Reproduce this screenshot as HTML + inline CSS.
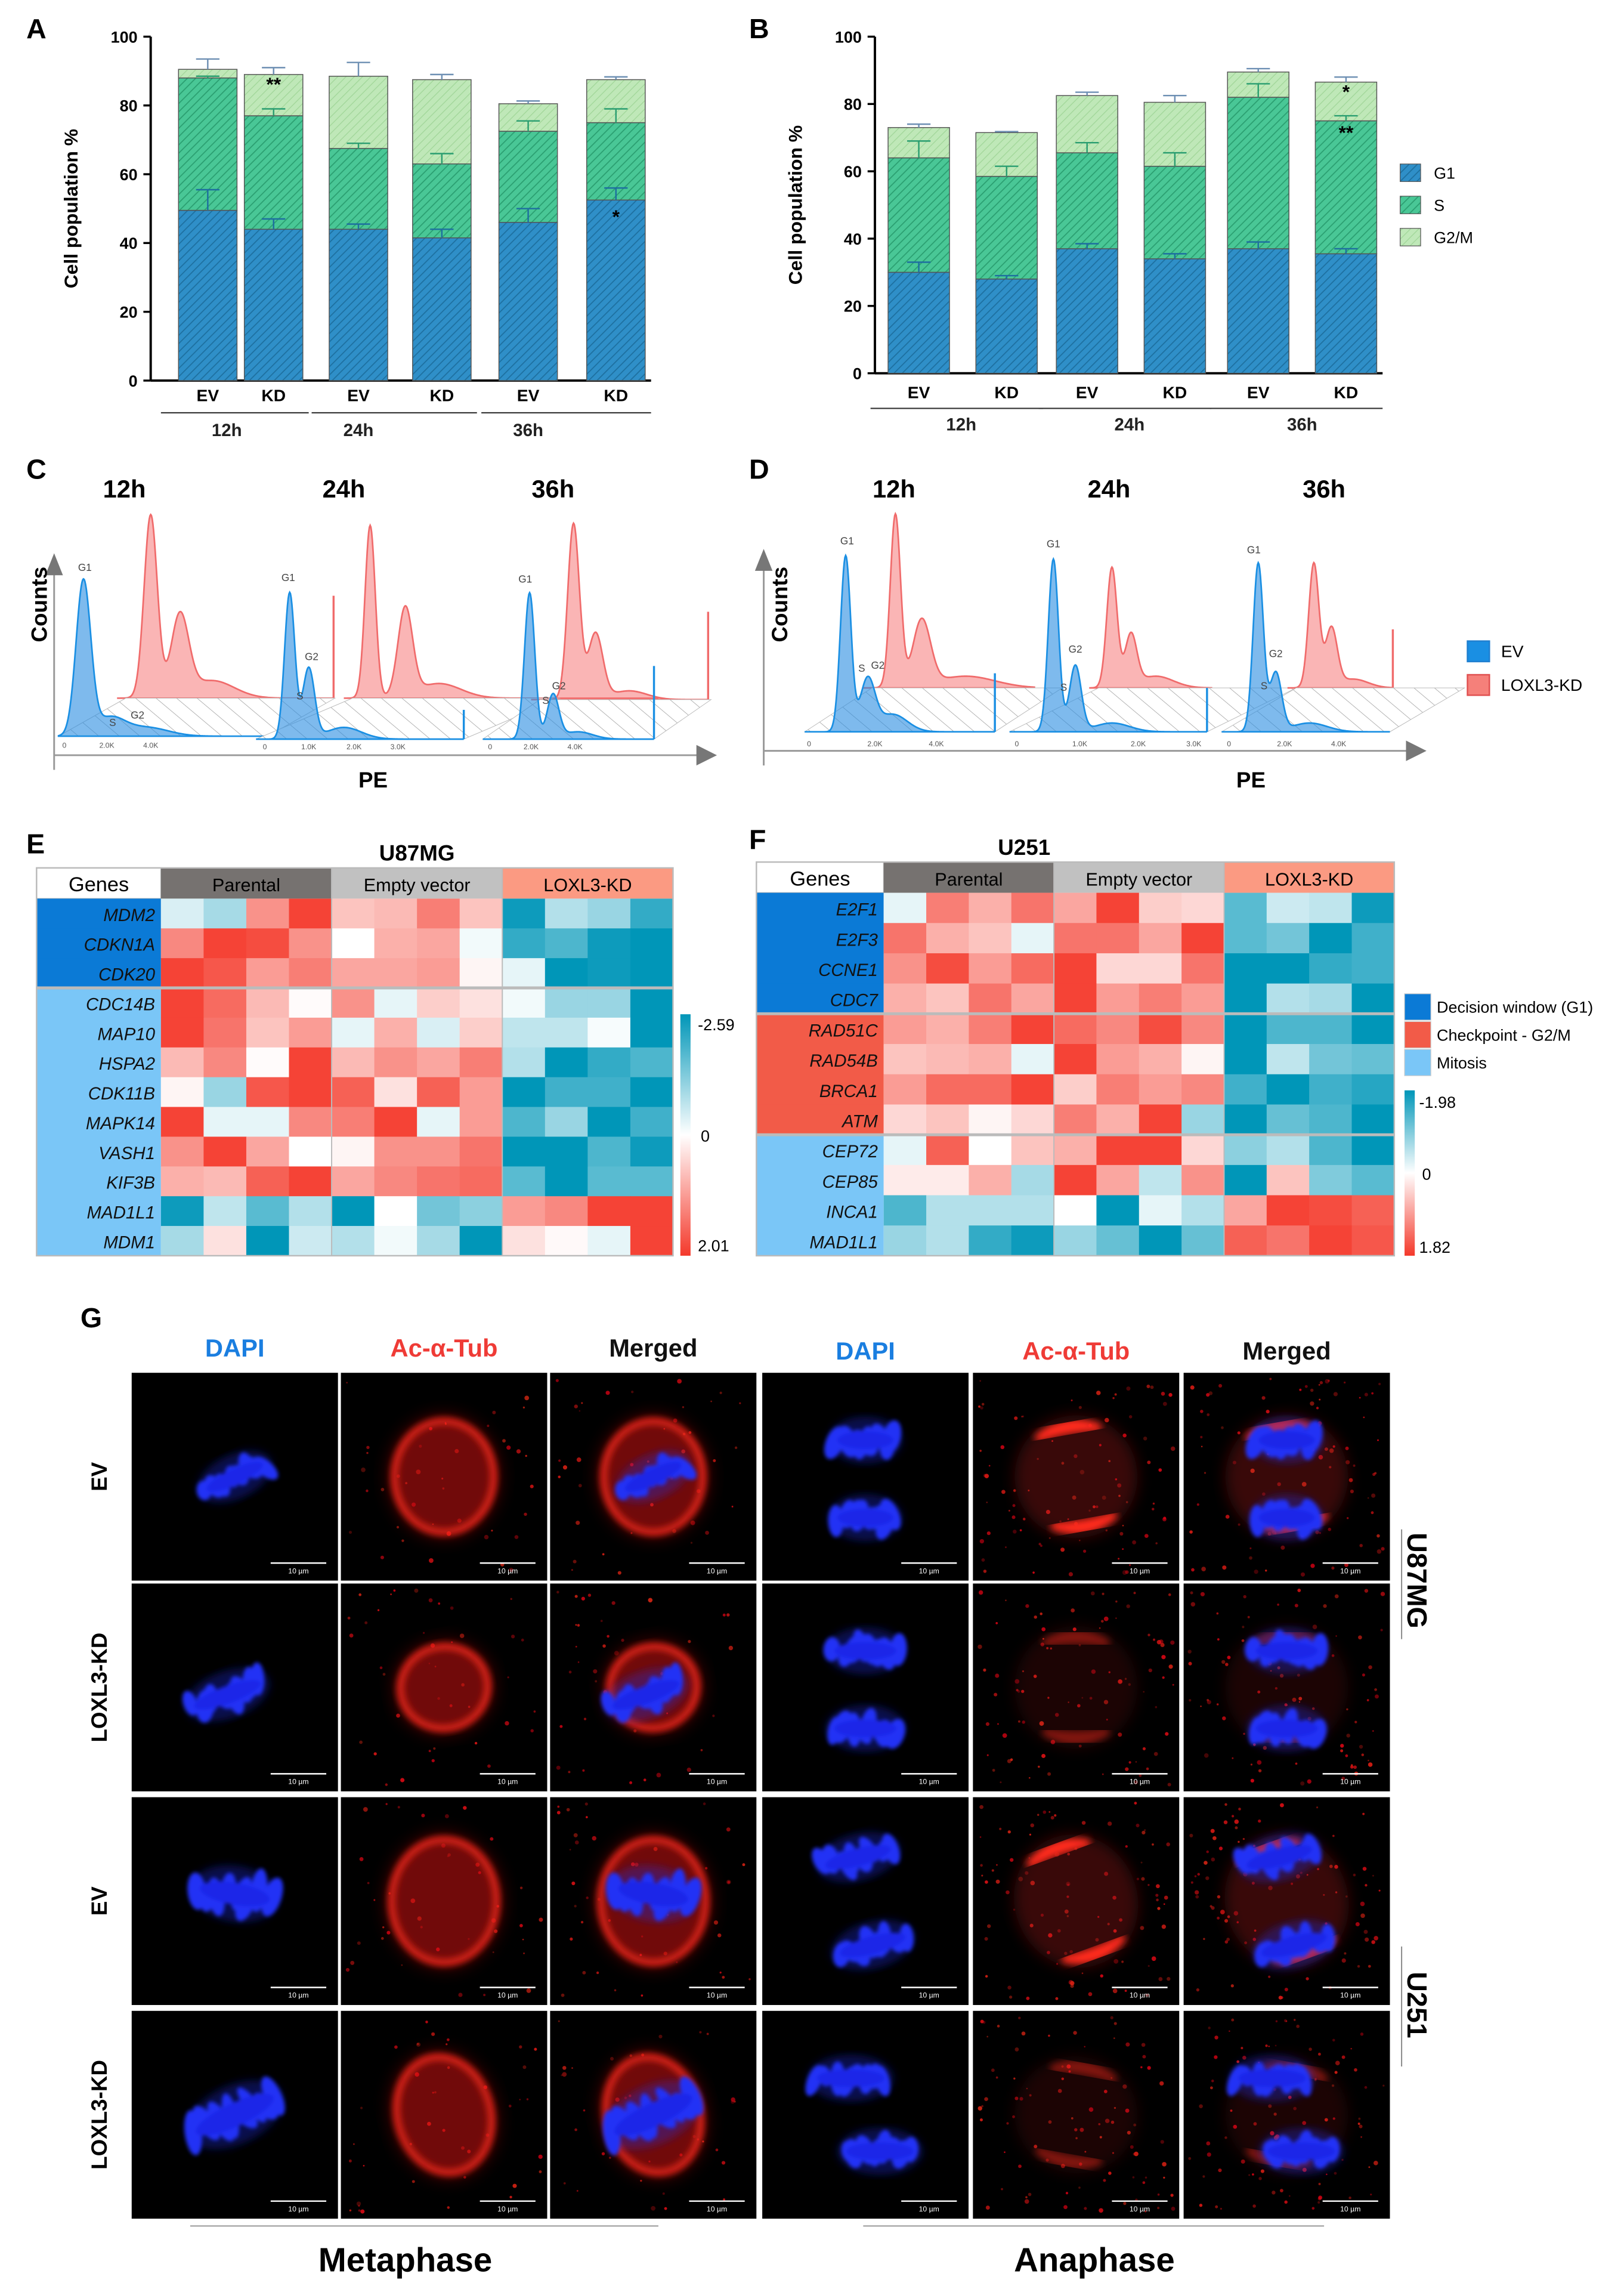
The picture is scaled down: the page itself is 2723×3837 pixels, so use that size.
<!DOCTYPE html>
<html><head><meta charset="utf-8"><style>
html,body{margin:0;padding:0;background:#fff}
svg{display:block}
text{font-family:"Liberation Sans",Arial,sans-serif}
</style></head><body>
<svg id="fig" xmlns="http://www.w3.org/2000/svg" width="2723" height="3837" viewBox="0 0 1110 1564">
<defs>
<pattern id="hG1" patternUnits="userSpaceOnUse" width="4" height="4" patternTransform="rotate(45)"><rect width="4" height="4" fill="#2f8fc8"/><line x1="0" y1="0" x2="0" y2="4" stroke="#1d6f9f" stroke-width="1.4"/></pattern>
<pattern id="hS" patternUnits="userSpaceOnUse" width="4" height="4" patternTransform="rotate(45)"><rect width="4" height="4" fill="#49c796"/><line x1="0" y1="0" x2="0" y2="4" stroke="#2a9e70" stroke-width="1.4"/></pattern>
<pattern id="hG2" patternUnits="userSpaceOnUse" width="4" height="4" patternTransform="rotate(45)"><rect width="4" height="4" fill="#bfe8b8"/><line x1="0" y1="0" x2="0" y2="4" stroke="#9fd597" stroke-width="1"/></pattern>
<pattern id="floor" patternUnits="userSpaceOnUse" width="9" height="9" patternTransform="rotate(-50)"><rect width="9" height="9" fill="#fff"/><line x1="0" y1="0" x2="0" y2="9" stroke="#9a9a9a" stroke-width="0.6"/></pattern>
<filter id="blur2"><feGaussianBlur stdDeviation="2.5"/></filter>
<filter id="blur1"><feGaussianBlur stdDeviation="1.3"/></filter>
<filter id="blur4"><feGaussianBlur stdDeviation="5"/></filter>
</defs>
<g id="root"></g>
</svg>
<script>
// ---------- Panel A / B data ----------
var barCats = ['EV','KD','EV','KD','EV','KD'];
var groupLabels = ['12h','24h','36h'];
var aG1 = [49.5,44,44,41.5,46,52.5];
var aS  = [38.5,33,23.5,21.5,26.5,22.5];
var aG2 = [2.5,12,21,24.5,8,12.5];
var aErrG1 = [6,3,1.5,2.5,4,3.5];
var aErrS  = [0.5,2,1.5,3,3,4];
var aErrT  = [3,2,4,1.5,0.8,0.8];
var bG1 = [30,28,37,34,37,35.5];
var bS  = [34,30.5,28.5,27.5,45,39.5];
var bG2 = [9,13,17,19,7.5,11.5];
var bErrG1 = [3,1,1.5,1.5,2,1.5];
var bErrS  = [5,3,3,4,4,1.5];
var bErrT  = [1,0.3,1,2,1,1.5];
var yTicks = [0,20,40,60,80,100];
// ---------- Heatmap data ----------
var eGenes = ['MDM2','CDKN1A','CDK20','CDC14B','MAP10','HSPA2','CDK11B','MAPK14','VASH1','KIF3B','MAD1L1','MDM1'];
var eVals = [
[-0.15,-0.35,0.55,0.95,0.3,0.35,0.65,0.3,-0.95,-0.3,-0.4,-0.8],
[0.6,0.95,0.9,0.55,0,0.4,0.45,-0.05,-0.8,-0.7,-0.95,-1],
[0.95,0.85,0.5,0.65,0.45,0.45,0.5,0.05,-0.1,-1,-0.95,-1],
[0.95,0.75,0.35,0.02,0.55,-0.1,0.25,0.15,-0.05,-0.4,-0.4,-1],
[0.95,0.7,0.3,0.5,-0.1,0.4,-0.15,0.25,-0.25,-0.25,-0.03,-1],
[0.35,0.6,0.02,0.95,0.35,0.55,0.45,0.65,-0.3,-1,-0.8,-0.7],
[0.05,-0.4,0.85,0.95,0.8,0.15,0.8,0.5,-1,-0.75,-0.75,-1],
[0.95,-0.1,-0.1,0.6,0.65,0.95,-0.1,0.5,-0.7,-0.4,-1,-0.75],
[0.55,0.95,0.45,0,0.05,0.55,0.55,0.7,-1,-1,-0.7,-0.95],
[0.4,0.35,0.8,0.95,0.45,0.6,0.7,0.75,-0.65,-1,-0.65,-0.65],
[-0.95,-0.25,-0.65,-0.3,-1,0,-0.55,-0.45,0.5,0.6,0.95,0.95],
[-0.35,0.15,-1,-0.2,-0.3,-0.05,-0.35,-1,0.15,0.03,-0.1,0.95]];
var eGroups = [0,0,0,2,2,2,2,2,2,2,2,2];
var fGenes = ['E2F1','E2F3','CCNE1','CDC7','RAD51C','RAD54B','BRCA1','ATM','CEP72','CEP85','INCA1','MAD1L1'];
var fVals = [
[-0.1,0.65,0.4,0.7,0.45,0.95,0.25,0.2,-0.65,-0.2,-0.25,-0.95],
[0.7,0.4,0.3,-0.1,0.7,0.7,0.45,0.95,-0.65,-0.55,-1,-0.75],
[0.55,0.9,0.5,0.75,0.95,0.2,0.2,0.7,-1,-1,-0.8,-0.75],
[0.4,0.3,0.7,0.45,0.95,0.5,0.65,0.5,-1,-0.3,-0.35,-1],
[0.5,0.4,0.65,0.95,0.75,0.6,0.9,0.6,-1,-0.7,-0.7,-1],
[0.3,0.35,0.4,-0.1,0.95,0.5,0.4,0.05,-1,-0.25,-0.55,-0.6],
[0.5,0.75,0.75,0.95,0.25,0.65,0.5,0.6,-0.75,-1,-0.75,-0.85],
[0.2,0.3,0.05,0.2,0.65,0.4,0.95,-0.4,-1,-0.6,-0.7,-1],
[-0.1,0.8,0,0.3,0.4,0.95,0.95,0.2,-0.45,-0.3,-0.7,-1],
[0.1,0.1,0.4,-0.35,0.95,0.45,-0.25,0.55,-1,0.3,-0.5,-0.65],
[-0.7,-0.3,-0.3,-0.3,0,-1,-0.1,-0.3,0.45,0.95,0.9,0.8],
[-0.4,-0.3,-0.8,-0.95,-0.4,-0.6,-1,-0.6,0.8,0.7,0.95,0.85]];
var fGroups = [0,0,0,0,1,1,1,1,2,2,2,2];
// ---------- Flow histogram peaks [x, height, width] ----------
var cBlue12 = [[57,105,5],[75,12,10],[100,6,15]];
var cRed12  = [[103,125,4.5],[123,55,6],[145,12,15]];
var cBlue24 = [[198,100,3.5],[211,48,4],[235,8,12]];
var cRed24  = [[253,118,3.5],[277,60,5],[300,10,15]];
var cBlue36 = [[362,100,3.5],[378,30,4],[395,5,10]];
var cRed36  = [[392,120,4],[407,45,5],[430,6,12]];
var dBlue12 = [[578,120,3.5],[593,35,5],[610,12,10]];
var dRed12  = [[612,118,3.5],[630,45,6],[660,8,20]];
var dBlue24 = [[720,118,3.5],[735,45,4],[760,6,12]];
var dRed24  = [[760,82,3.5],[773,35,4],[790,8,12]];
var dBlue36 = [[860,115,3.5],[872,40,4],[895,6,12]];
var dRed36  = [[898,85,3.5],[910,40,4],[925,6,10]];

var NS='http://www.w3.org/2000/svg';
var root=document.getElementById('root');
function el(tag,attrs,parent,txt){var e=document.createElementNS(NS,tag);for(var k in attrs)e.setAttribute(k,attrs[k]);if(txt!==undefined)e.textContent=txt;(parent||root).appendChild(e);return e;}
function T(x,y,s,txt,o,parent){o=o||{};var a={x:x,y:y,'font-size':s,fill:o.fill||'#000','text-anchor':o.anchor||'middle'};if(o.bold)a['font-weight']='bold';if(o.italic)a['font-style']='italic';if(o.tr)a.transform=o.tr;if(o.ff)a['font-family']=o.ff;return el('text',a,parent,txt);}

[['A',18,26],['B',512,26],['C',18,327],['D',512,327],['E',18,583],['F',512,580],['G',55,907]].forEach(function(p){
  var t=T(p[1],p[2],19,p[0],{bold:true,anchor:'start'});
  
  
});

function barChart(id,ax,y0,y100,centers,bw,G1,S,G2,eG1,eS,eT,lineY,catY,grpY,grpX){
  var g=el('g',{},root);
  
  
  function Y(v){return y0+(y100-y0)*v/100;}
  el('line',{x1:ax,y1:Y(0),x2:ax,y2:Y(100),stroke:'#000','stroke-width':1.6},g);
  yTicks.forEach(function(v){
    el('line',{x1:ax-5,y1:Y(v),x2:ax,y2:Y(v),stroke:'#000','stroke-width':1.4},g);
    var t=T(ax-9,Y(v)+4,11,String(v),{anchor:'end',bold:true},g);
    
    
  });
  var yt=T(0,0,13,'Cell population %',{bold:true,tr:'translate('+(ax-50)+','+((Y(0)+Y(100))/2)+') rotate(-90)'},g);
  
  
  el('line',{x1:ax,y1:Y(0),x2:centers[5]+bw/2+4,y2:Y(0),stroke:'#000','stroke-width':1.6},g);
  centers.forEach(function(cx,i){
    var v1=G1[i],v2=v1+S[i],v3=v2+G2[i];
    var parts=[[0,v1,'url(#hG1)','g1'],[v1,v2,'url(#hS)','s'],[v2,v3,'url(#hG2)','g2m']];
    parts.forEach(function(p){
      var r=el('rect',{x:cx-bw/2,y:Y(p[1]),width:bw,height:Y(p[0])-Y(p[1]),fill:p[2],stroke:'#555','stroke-width':0.6},g);
      
      
    });
    [[v1,eG1[i],'#1d6f9f'],[v2,eS[i],'#2a9e70'],[v3,eT[i],'#6d8fb3']].forEach(function(e){
      el('line',{x1:cx,y1:Y(e[0]),x2:cx,y2:Y(e[0]+e[1]),stroke:e[2],'stroke-width':1},g);
      el('line',{x1:cx-8,y1:Y(e[0]+e[1]),x2:cx+8,y2:Y(e[0]+e[1]),stroke:e[2],'stroke-width':1},g);
    });
    var c=T(cx,catY,11.5,barCats[i],{bold:true},g);
    
    
  });
  for(var k=0;k<3;k++){
    var xa=centers[2*k]-bw/2-12,xb=centers[2*k+1]+bw/2+4;
    el('line',{x1:xa,y1:lineY,x2:xb,y2:lineY,stroke:'#333','stroke-width':0.9},g);
    var gl=T(grpX[k],grpY,12,groupLabels[k],{bold:true,fill:'#222'},g);
    
    
  }
  return {g:g,Y:Y};
}
var A=barChart('a',103,260,25,[142,187,245,302,361,421],40,aG1,aS,aG2,aErrG1,aErrS,aErrT,282,274,298,[155,245,361]);
T(187,62,13,'**',{bold:true},A.g);
T(421,A.Y(aG1[5]-5)+4,13,'*',{bold:true},A.g);
var B=barChart('b',598,255,25,[628,688,743,803,860,920],42,bG1,bS,bG2,bErrG1,bErrS,bErrT,279,272,294,[657,772,890]);
T(920,67,13,'*',{bold:true},B.g);
T(920,95,13,'**',{bold:true},B.g);
[['url(#hG1)','G1',118],['url(#hS)','S',140],['url(#hG2)','G2/M',162]].forEach(function(l){
  var r=el('rect',{x:957,y:l[2]-6,width:14,height:12,fill:l[0],stroke:'#555','stroke-width':0.5});
  
  
  var t=T(980,l[2]+4,11,l[1],{anchor:'start'});
  
  
});

function histPath(peaks,xs,xe,base){
  var d='M'+xs+','+base;
  for(var x=xs;x<=xe;x+=0.5){
    var h=0;peaks.forEach(function(p){var z=(x-p[0])/p[2];h+=p[1]*Math.exp(-z*z/2);});
    d+=' L'+x+','+(base-h).toFixed(2);
  }
  return d+' L'+xe+','+base+' Z';
}
function hist(name,peaks,xs,xe,base,col,fill,spike,g){
  var p=el('path',{d:histPath(peaks,xs,xe,base),fill:fill,stroke:col,'stroke-width':1.1},g);
  
  
  if(spike)el('line',{x1:xe,y1:base,x2:xe,y2:base-spike,stroke:col,'stroke-width':1.4},g);
}
function floor(x1,x2,yb,dx,dy,g){
  el('path',{d:'M'+x1+','+yb+' L'+x2+','+yb+' L'+(x2+dx)+','+(yb+dy)+' L'+(x1+dx)+','+(yb+dy)+' Z',fill:'url(#floor)',stroke:'#bbb','stroke-width':0.4},g);
}
function flowPanel(id,ax,axTop,axY,axRight,titles,titleX,countsX,peX,sets,ticks){
  var g=el('g',{},root);
  
  
  el('line',{x1:ax,y1:axY+10,x2:ax,y2:axTop+12,stroke:'#999','stroke-width':1.2},g);
  el('path',{d:'M'+(ax-6)+','+(axTop+15)+' L'+ax+','+axTop+' L'+(ax+6)+','+(axTop+15)+' Z',fill:'#777'},g);
  el('line',{x1:ax,y1:axY,x2:axRight-12,y2:axY,stroke:'#999','stroke-width':1.2},g);
  el('path',{d:'M'+(axRight-14)+','+(axY-7)+' L'+axRight+','+axY+' L'+(axRight-14)+','+(axY+7)+' Z',fill:'#777'},g);
  var c=T(0,0,15,'Counts',{bold:true,tr:'translate('+countsX+',413) rotate(-90)'},g);
  
  
  var pe=T(peX,538,15,'PE',{bold:true},g);
  
  
  titles.forEach(function(t,i){var tt=T(titleX[i],340,17,t,{bold:true},g);
    
    });
  sets.forEach(function(s){
    hist('red-histogram',s.red,s.rx[0],s.rx[1],s.rb,'#f06b6b','rgba(245,120,120,0.55)',s.rs,g);
    floor(s.bx[0],s.bx[1],s.bb,s.rx[0]-s.bx[0]+6,s.rb-s.bb,g);
    hist('blue-histogram',s.blue,s.bx[0],s.bx[1],s.bb,'#1a8fe3','rgba(40,140,225,0.6)',s.bs,g);
    s.lab.forEach(function(l){T(l[0],l[1],7,l[2],{fill:'#444'},g);});
  });
  ticks.forEach(function(t){T(t[0],t[1],5,t[2],{fill:'#555'},g);});
}
flowPanel('c',37,378,516,490,['12h','24h','36h'],[85,235,378],32,255,[
 {blue:cBlue12,bx:[40,183],bb:503,red:cRed12,rx:[80,228],rb:477,rs:70,bs:0,lab:[[58,390,'G1'],[77,496,'S'],[94,491,'G2']]},
 {blue:cBlue24,bx:[175,317],bb:505,red:cRed24,rx:[235,450],rb:477,rs:0,bs:20,lab:[[197,397,'G1'],[213,451,'G2'],[205,478,'S']]},
 {blue:cBlue36,bx:[330,447],bb:505,red:cRed36,rx:[363,484],rb:478,rs:60,bs:50,lab:[[359,398,'G1'],[382,471,'G2'],[373,481,'S']]}
],[[44,511,'0'],[73,511,'2.0K'],[103,511,'4.0K'],[181,512,'0'],[211,512,'1.0K'],[242,512,'2.0K'],[272,512,'3.0K'],[335,512,'0'],[363,512,'2.0K'],[393,512,'4.0K']]);
flowPanel('d',522,375,513,975,['12h','24h','36h'],[611,758,905],538,855,[
 {blue:dBlue12,bx:[550,680],bb:500,red:dRed12,rx:[590,707],rb:470,rs:0,bs:40,lab:[[579,372,'G1'],[589,459,'S'],[600,457,'G2']]},
 {blue:dBlue24,bx:[690,825],bb:500,red:dRed24,rx:[745,828],rb:470,rs:0,bs:30,lab:[[720,374,'G1'],[735,446,'G2'],[727,472,'S']]},
 {blue:dBlue36,bx:[835,950],bb:500,red:dRed36,rx:[880,952],rb:470,rs:40,bs:0,lab:[[857,378,'G1'],[872,449,'G2'],[864,471,'S']]}
],[[553,510,'0'],[598,510,'2.0K'],[640,510,'4.0K'],[695,510,'0'],[738,510,'1.0K'],[778,510,'2.0K'],[816,510,'3.0K'],[840,510,'0'],[878,510,'2.0K'],[915,510,'4.0K']]);
[['#1a8fe3','#1f7fd0','EV',445],['#f5807a','#e05050','LOXL3-KD',468]].forEach(function(l){
  var r=el('rect',{x:1003,y:l[3]-7,width:15,height:14,fill:l[0],stroke:l[1],'stroke-width':1});
  
  
  var t=T(1026,l[3]+4,11.5,l[2],{anchor:'start'});
  
  
});

function hmColor(v){
  var r,g,b;
  if(v>=0){r=255+(244-255)*v;g=255+(57-255)*v;b=255+(43-255)*v;}
  else{var t=-v;r=255+(0-255)*t;g=255+(150-255)*t;b=255+(184-255)*t;}
  return 'rgb('+Math.round(r)+','+Math.round(g)+','+Math.round(b)+')';
}
var grpColors=['#0b7ad6','#f25b48','#7ac6f7'];
function heatmap(id,title,titleX,titleY,x0,gw,x1,hy0,hy1,ry1,genes,vals,groups){
  var g=el('g',{},root);
  
  
  var tt=T(titleX,titleY,15,title,{bold:true},g);
  
  
  var cw=(x1-x0-gw)/12,rh=(ry1-hy1)/12,cx0=x0+gw;
  el('rect',{x:x0,y:hy0,width:gw,height:hy1-hy0,fill:'#fff',stroke:'#bbb','stroke-width':0.8},g);
  T(x0+gw/2,hy1-5,14,'Genes',{},g);
  [['Parental','#767270'],['Empty vector','#c1c1c1'],['LOXL3-KD','#fb9a82']].forEach(function(h,i){
    var r=el('rect',{x:cx0+i*4*cw,y:hy0,width:4*cw,height:hy1-hy0,fill:h[1]},g);
    
    
    T(cx0+i*4*cw+2*cw,hy1-5,12.5,h[0],{},g);
  });
  genes.forEach(function(gn,r){
    var y=hy1+r*rh;
    el('rect',{x:x0,y:y,width:gw,height:rh+0.3,fill:grpColors[groups[r]]},g);
    var lt=T(cx0-4,y+rh*0.75,12,gn,{anchor:'end',italic:true,fill:'#111'},g);
    
    
    vals[r].forEach(function(v,c){
      var cell=el('rect',{x:cx0+c*cw,y:y,width:cw+0.3,height:rh+0.3,fill:hmColor(v)},g);
      
      
    });
    if(r>0&&groups[r]!==groups[r-1])el('line',{x1:x0,y1:y,x2:x1,y2:y,stroke:'#bbb','stroke-width':2},g);
  });
  [4,8].forEach(function(c){el('line',{x1:cx0+c*cw,y1:hy0,x2:cx0+c*cw,y2:ry1,stroke:'#bbb','stroke-width':0.8},g);});
  el('rect',{x:x0,y:hy0,width:x1-x0,height:ry1-hy0,fill:'none',stroke:'#bbb','stroke-width':1},g);
  return g;
}
heatmap('u87mg','U87MG',285,588,25,85,460,593,614,858,eGenes,eVals,eGroups);
heatmap('u251','U251',700,584,517,87,953,589,610,858,fGenes,fVals,fGroups);
var lg=el('linearGradient',{id:'cs',x1:0,y1:0,x2:0,y2:1},document.querySelector('defs'));
el('stop',{offset:'0','stop-color':'#0096b8'},lg);el('stop',{offset:'0.5','stop-color':'#ffffff'},lg);el('stop',{offset:'1','stop-color':'#f4392b'},lg);
var cs1=el('rect',{x:465,y:693,width:7,height:165,fill:'url(#cs)'});


T(477,704,11,'-2.59',{anchor:'start'});T(479,780,11,'0',{anchor:'start'});T(477,855,11,'2.01',{anchor:'start'});
var cs2=el('rect',{x:960,y:745,width:7,height:113,fill:'url(#cs)'});


T(970,757,11,'-1.98',{anchor:'start'});T(972,806,11,'0',{anchor:'start'});T(970,856,11,'1.82',{anchor:'start'});
[['#0b7ad6','Decision window (G1)',688],['#f25b48','Checkpoint - G2/M',707],['#7ac6f7','Mitosis',726]].forEach(function(l){
  var r=el('rect',{x:960,y:l[2]-9,width:18,height:18,fill:l[0],stroke:'#ccc','stroke-width':0.5});
  
  
  var t=T(982,l[2]+4,11,l[1],{anchor:'start'});
  
  
});

// ---------- panel G microscopy ----------
var gCols=[90,233,376,521,665,809], gRows=[938,1082,1228,1374], gW=141, gH=142;
var G=el('g',{},root);


[['DAPI','#1a7ee0'],['Ac-α-Tub','#ef3b36'],['Merged','#111'],['DAPI','#1a7ee0'],['Ac-α-Tub','#ef3b36'],['Merged','#111']].forEach(function(h,i){
  var t=T(gCols[i]+gW/2,i<3?927:929,17,h[0],{bold:true,fill:h[1]},G);
  
  
});
['EV','LOXL3-KD','EV','LOXL3-KD'].forEach(function(l,i){
  var t=T(0,0,15,l,{bold:true,tr:'translate(73,'+(gRows[i]+gH/2)+') rotate(-90)'},G);
  
  
});
var u1=T(0,0,19,'U87MG',{bold:true,tr:'translate(962,1080) rotate(90)'},G);

var u2=T(0,0,19,'U251',{bold:true,tr:'translate(962,1370) rotate(90)'},G);

el('line',{x1:958,y1:1045,x2:958,y2:1120,stroke:'#888','stroke-width':0.8},G);
el('line',{x1:958,y1:1330,x2:958,y2:1412,stroke:'#888','stroke-width':0.8},G);
el('line',{x1:130,y1:1521,x2:450,y2:1521,stroke:'#999','stroke-width':0.8},G);
el('line',{x1:590,y1:1521,x2:905,y2:1521,stroke:'#999','stroke-width':0.8},G);
var mt=T(277,1552,23,'Metaphase',{bold:true},G);
var an=T(748,1552,23,'Anaphase',{bold:true},G);

var seed=7;function rnd(){seed=(seed*16807)%2147483647;return seed/2147483647;}
function chrom(g,cx,cy,w,h,rot){
  var cg=el('g',{transform:'translate('+cx+','+cy+') rotate('+rot+')',filter:'url(#blur1)'},g);
  el('ellipse',{cx:0,cy:0,rx:w/2+6,ry:h/2+4,fill:'rgba(30,40,220,0.35)',filter:'url(#blur2)'},cg);
  for(var i=0;i<8;i++){
    var x=-w/2+i*w/7+(rnd()-0.5)*4, y=(rnd()-0.5)*h*0.35;
    el('ellipse',{cx:x,cy:y,rx:4.5+rnd()*2,ry:h/2*(0.6+rnd()*0.4),fill:'#2030f5',transform:'rotate('+((rnd()-0.5)*50)+' '+x+' '+y+')'},cg);
  }
  el('ellipse',{cx:0,cy:0,rx:w/2,ry:h/4,fill:'#1a25e8'},cg);
}
function speckle(g,x,y,n){for(var i=0;i<n;i++)el('circle',{cx:x+4+rnd()*(gW-8),cy:y+4+rnd()*(gH-8),r:0.5+rnd()*1.1,fill:'rgb(220,'+Math.round(rnd()*40)+',20)',opacity:0.3+rnd()*0.6},g);}
function metaTub(g,cx,cy,rx,ry,rot){
  var sg=el('g',{transform:'translate('+cx+','+cy+') rotate('+rot+')'},g);
  el('ellipse',{cx:0,cy:0,rx:rx+6,ry:ry+6,fill:'rgba(200,20,20,0.25)',filter:'url(#blur4)'},sg);
  el('ellipse',{cx:0,cy:0,rx:rx,ry:ry,fill:'rgba(230,30,30,0.35)',filter:'url(#blur2)'},sg);
  el('ellipse',{cx:0,cy:0,rx:rx,ry:ry,fill:'none',stroke:'#ff2a1a','stroke-width':4,filter:'url(#blur2)'},sg);
  for(var i=-3;i<=3;i++)el('line',{x1:i*rx/4,y1:-ry*0.85,x2:i*rx/4,y2:ry*0.85,stroke:'rgba(255,40,30,0.3)','stroke-width':1.5,filter:'url(#blur1)'},sg);
}
function anaTub(g,cx,cy,d,rot,op){
  var sg=el('g',{transform:'translate('+cx+','+cy+') rotate('+rot+')',opacity:op},g);
  el('ellipse',{cx:0,cy:0,rx:42,ry:d+12,fill:'rgba(190,20,20,0.3)',filter:'url(#blur4)'},sg);
  el('path',{d:'M-22,'+(-d)+' Q0,'+(-d-14)+' 22,'+(-d)+' Q0,'+(-d-4)+' -22,'+(-d)+' Z',fill:'#ff2a1a',stroke:'#ff2a1a','stroke-width':5,filter:'url(#blur2)'},sg);
  el('path',{d:'M-22,'+d+' Q0,'+(d+14)+' 22,'+d+' Q0,'+(d+4)+' -22,'+d+' Z',fill:'#ff2a1a',stroke:'#ff2a1a','stroke-width':5,filter:'url(#blur2)'},sg);
}
var cellCfg=[
 {m:[0,0,42,22,-25],mt:[0,0,34,38,0],a:[0,-25,0,28,0,38],at:[0,0,30,-10,1]},
 {m:[-5,5,48,24,-20],mt:[0,0,30,28,-10],a:[0,-25,0,28,0,42],at:[0,0,30,0,0.5]},
 {m:[0,-5,48,30,10],mt:[0,0,36,42,0],a:[-5,-30,5,30,-15,46],at:[0,0,34,-20,1]},
 {m:[0,0,58,32,-25],mt:[0,0,32,40,-15],a:[-10,-25,10,25,0,46],at:[0,0,28,10,0.5]}
];
gRows.forEach(function(ry,r){
  gCols.forEach(function(cx,c){
    var cell=el('g',{},G);
    
    
    el('rect',{x:cx,y:ry,width:gW,height:gH,fill:'#000'},cell);
    var mx=cx+gW/2,my=ry+gH/2,cf=cellCfg[r];
    var meta=c<3,ch=c%3;
    if(ch>=1){speckle(cell,cx,ry,meta?40:90);
      if(meta)metaTub(cell,mx+cf.mt[0],my+cf.mt[1],cf.mt[2],cf.mt[3],cf.mt[4]);
      else anaTub(cell,mx+cf.at[0],my+cf.at[1],cf.at[2],cf.at[3],cf.at[4]);}
    if(ch===0||ch===2){seed=11+r*5+(meta?0:2);
      if(meta)chrom(cell,mx+cf.m[0],my+cf.m[1],cf.m[2],cf.m[3],cf.m[4]);
      else{chrom(cell,mx+cf.a[0],my+cf.a[1],cf.a[5],24,cf.a[4]);chrom(cell,mx+cf.a[2],my+cf.a[3],cf.a[5],24,cf.a[4]);}}
    el('line',{x1:cx+gW-46,y1:ry+gH-12,x2:cx+gW-8,y2:ry+gH-12,stroke:'#fff','stroke-width':1},cell);
    T(cx+gW-27,ry+gH-5,5,'10 µm',{fill:'#fff'},cell);
  });
});
</script>
</body></html>
